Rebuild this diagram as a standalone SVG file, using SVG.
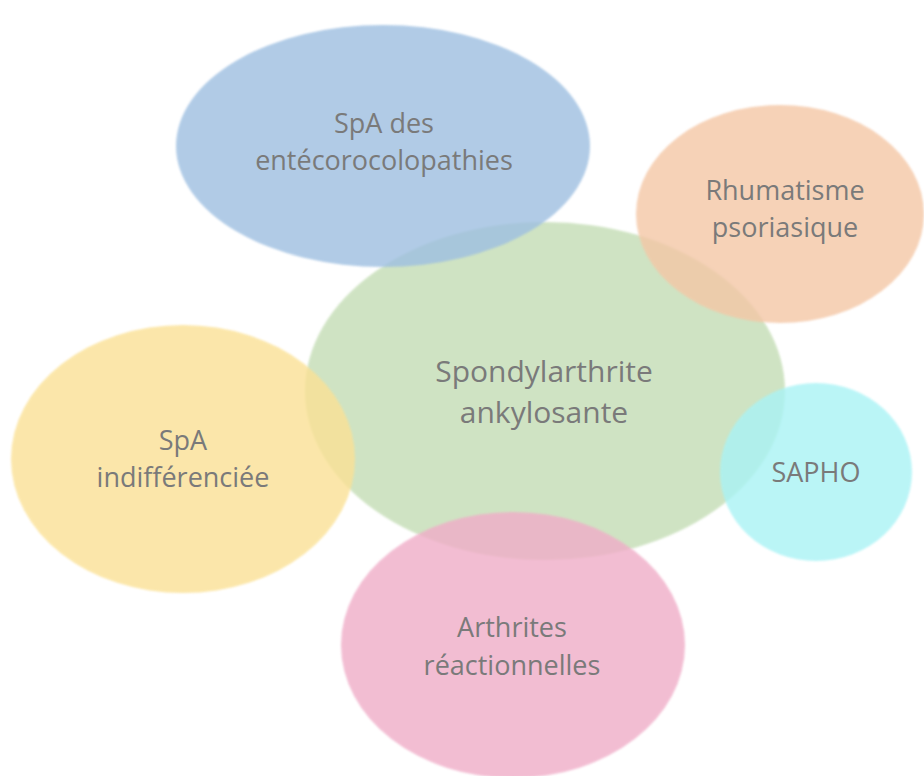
<svg xmlns="http://www.w3.org/2000/svg" width="924" height="776" viewBox="0 0 924 776">
<defs>
<filter id="soft" x="-5%" y="-5%" width="110%" height="110%"><feGaussianBlur stdDeviation="1"/></filter>
</defs>
<style>
.bub{opacity:0.8;filter:url(#soft)}
.lbl{font-family:"Open Sans","Liberation Sans",sans-serif;font-size:27px;fill:#7a7a7a;text-anchor:middle}
.big{font-size:30px}
</style>
<rect width="924" height="776" fill="#ffffff"/>
<g id="connectors"></g>
<g id="node-sa">
<ellipse class="bub" cx="545" cy="391" rx="240" ry="169" fill="#C4DDB5"/>
<text class="lbl big" x="544" y="382">Spondylarthrite</text>
<text class="lbl big" x="544" y="423">ankylosante</text>
</g>
<g id="node-entero">
<ellipse class="bub" cx="383" cy="146" rx="207" ry="121" fill="#9EBFE1"/>
<text class="lbl" x="384" y="133">SpA des</text>
<text class="lbl" x="384" y="170">entécorocolopathies</text>
</g>
<g id="node-psoriasique">
<ellipse class="bub" cx="780" cy="214" rx="144" ry="109" fill="#F4C7A6"/>
<text class="lbl" x="785" y="200">Rhumatisme</text>
<text class="lbl" x="785" y="237">psoriasique</text>
</g>
<g id="node-indiff">
<ellipse class="bub" cx="183" cy="459" rx="172" ry="134" fill="#FBE195"/>
<text class="lbl" x="183" y="450">SpA</text>
<text class="lbl" x="183" y="487">indifférenciée</text>
</g>
<g id="node-sapho">
<ellipse class="bub" cx="816" cy="472" rx="96" ry="89" fill="#A9F3F5"/>
<text class="lbl" x="816" y="482">SAPHO</text>
</g>
<g id="node-reactive">
<ellipse class="bub" cx="513" cy="645" rx="172" ry="133" fill="#F0ADC8"/>
<text class="lbl" x="512" y="637">Arthrites</text>
<text class="lbl" x="512" y="675">réactionnelles</text>
</g>
</svg>
